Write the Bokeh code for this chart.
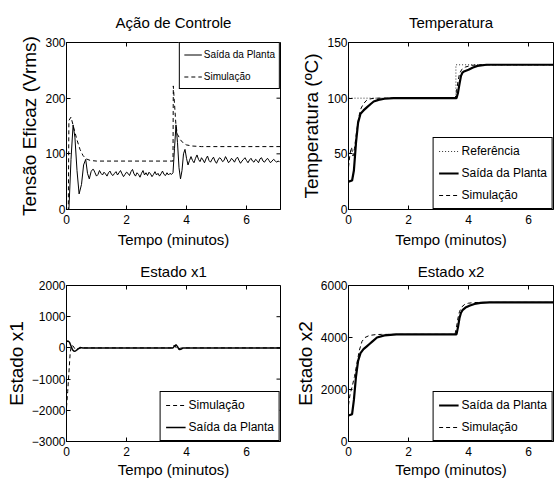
import numpy as np
from bokeh.plotting import figure
from bokeh.layouts import column, row
from bokeh.models import Range1d, FixedTicker, Legend, LegendItem
from bokeh.embed import file_html
from bokeh.resources import INLINE

FONT = "Liberation Sans"

# ---------------- data ----------------
x_ticks = [0, 2, 4, 6]

# Ação de Controle (Vrms)
u_sim_t = [0, 0.06, 0.08, 0.15, 0.25, 0.35, 0.45, 0.55, 0.65, 0.8, 1.0, 3.55, 3.56, 3.6, 3.65, 3.7, 3.8, 3.9, 4.0, 4.2, 4.5, 7.13]
u_sim = [0, 0, 160, 166, 145, 125, 108, 97, 91, 88, 87, 87, 222, 190, 150, 135, 125, 119, 116, 114, 113, 113]
u_plant_t_a = [0, 0.08, 0.15, 0.22, 0.28, 0.35, 0.42, 0.5, 0.57, 0.64, 0.7, 0.76, 0.82, 0.87]
u_plant_a = [0, 0, 90, 152, 130, 70, 28, 45, 80, 90, 65, 55, 68, 72]
u_noise1 = [72, 66, 60, 63, 70, 65, 62, 67, 64, 60, 66, 69, 63, 61, 65, 68, 62, 66, 70, 64,
            59, 63, 67, 65, 61, 68, 72, 64, 60, 66, 63, 58, 65, 70, 62, 66, 61, 67, 64, 59,
            63, 68, 62, 65, 60, 64, 69, 63, 61, 66, 62, 65, 63]
u_plant_t_b = [3.55, 3.6, 3.65, 3.7, 3.75, 3.8, 3.85, 3.9, 3.95, 4.0, 4.05, 4.1]
u_plant_b = [66, 110, 152, 120, 75, 55, 70, 100, 108, 92, 80, 88]
u_noise2 = [95, 88, 84, 92, 98, 90, 86, 93, 89, 84, 91, 96, 88, 85, 90, 94, 87, 83, 89, 93,
            91, 86, 88, 95, 90, 84, 87, 92, 89, 85, 91, 94, 88, 83, 87, 90, 93, 88, 84, 89,
            92, 87, 85, 90, 88, 84, 91, 93, 87, 85, 89, 92, 88, 84, 87, 90, 88, 85, 87, 86]

# Temperatura (ºC)
temp_ref_t = [0, 3.58, 3.58, 7.13]
temp_ref = [100, 100, 130, 130]
temp_plant_t = [0, 0.12, 0.18, 0.25, 0.32, 0.4, 0.5, 0.62, 0.75, 0.84, 1.0, 1.2, 1.5, 3.6, 3.65, 3.7, 3.75, 3.8, 3.85, 4.0, 4.15, 4.3, 4.6, 7.13]
temp_plant = [25, 26, 35, 60, 78, 86, 89, 92, 95, 97, 98.5, 99.5, 100, 100, 105, 113, 120, 123, 124, 125.5, 127.5, 129, 130, 130]
temp_sim_t = [0, 0.05, 0.1, 0.15, 0.2, 0.28, 0.35, 0.42, 0.5, 0.6, 0.75, 0.9, 3.56, 3.6, 3.65, 3.7, 3.78, 3.9, 4.1, 4.4, 7.13]
temp_sim = [38, 50, 56, 48, 55, 72, 84, 91, 95, 98, 99.5, 100, 100, 106, 115, 122, 126, 128, 129.5, 130, 130]

# Estado x1
x1_sim_t = [0, 0.04, 0.08, 0.12, 0.16, 0.22, 0.3, 0.4, 0.5, 3.5, 3.56, 3.62, 3.68, 3.75, 3.85, 7.13]
x1_sim = [-1900, -1400, -800, -200, 80, 60, -60, -20, 0, 0, 80, 60, -30, -20, 0, 0]
x1_plant_t = [0, 0.05, 0.1, 0.15, 0.2, 0.25, 0.3, 0.38, 0.45, 0.55, 3.55, 3.6, 3.65, 3.7, 3.75, 3.82, 3.9, 7.13]
x1_plant = [200, 220, 180, 60, -60, -110, -100, -40, 10, 0, 0, 60, 100, 40, -50, -40, 0, 0]

# Estado x2
x2_plant_t = [0, 0.12, 0.18, 0.25, 0.32, 0.4, 0.5, 0.6, 0.7, 0.8, 0.95, 1.2, 1.6, 3.6, 3.65, 3.7, 3.75, 3.8, 3.9, 4.05, 4.2, 4.4, 4.7, 7.13]
x2_plant = [1000, 1050, 1600, 2500, 3100, 3400, 3550, 3650, 3750, 3850, 4000, 4080, 4120, 4120, 4400, 4750, 4950, 5050, 5150, 5230, 5290, 5330, 5350, 5350]
x2_sim_t = [0, 0.05, 0.12, 0.2, 0.28, 0.36, 0.45, 0.55, 0.7, 0.9, 1.1, 3.55, 3.6, 3.65, 3.7, 3.78, 3.88, 4.0, 4.2, 4.5, 7.13]
x2_sim = [1400, 1800, 2100, 2500, 3000, 3500, 3850, 4000, 4080, 4110, 4120, 4120, 4400, 4750, 5000, 5180, 5280, 5320, 5345, 5350, 5350]

t_noise1 = list(np.round(0.9 + 0.05 * np.arange(len(u_noise1)), 2))
t_noise2 = list(np.round(4.15 + 0.05 * np.arange(len(u_noise2)), 2))
u_plant_t = u_plant_t_a + t_noise1 + u_plant_t_b + t_noise2
u_plant = u_plant_a + u_noise1 + u_plant_b + u_noise2

DASH = "4 3"
DOT = "1 2"


def make_fig(left_col, top_row, y_range, y_ticks, title, ylabel):
    if left_col:
        width, mbl, mbr = 290, 66, 10
    else:
        width, mbl, mbr = 264, 58, 1
    frame_w = width - mbl - mbr
    x_end = frame_w / 30.0
    if top_row:
        height, mbt, mbb = 250, 42, 41
    else:
        height, mbt, mbb = 234, 35, 43
    p = figure(width=width, height=height, x_range=Range1d(0, x_end), y_range=Range1d(*y_range),
               output_backend="svg", toolbar_location=None,
               min_border_left=mbl, min_border_right=mbr, min_border_top=mbt, min_border_bottom=mbb,
               title=title)
    p.grid.visible = False
    p.outline_line_color = "black"
    p.outline_line_width = 1
    p.outline_line_alpha = 1
    p.background_fill_color = "white"
    p.border_fill_color = "white"
    p.title.text_font = FONT
    p.title.text_font_size = "15px"
    p.title.text_font_style = "normal"
    p.title.text_color = "black"
    p.title.align = "center"
    p.title.standoff = 23 if top_row else 12
    if not left_col:
        p.title.offset = 4
    p.xaxis.ticker = FixedTicker(ticks=x_ticks)
    p.yaxis.ticker = FixedTicker(ticks=y_ticks)
    p.xaxis.axis_label = "Tempo (minutos)"
    p.yaxis.axis_label = ylabel
    for ax in (p.xaxis[0], p.yaxis[0]):
        ax.axis_line_color = "black"
        ax.major_tick_line_color = "black"
        ax.major_tick_in = 4
        ax.major_tick_out = 0
        ax.minor_tick_line_color = None
        ax.major_label_text_font = FONT
        ax.major_label_text_font_size = "12px"
        ax.major_label_text_color = "black"
        ax.axis_label_text_font_style = "normal"
        ax.axis_label_text_color = "black"
    p.xaxis.major_label_standoff = 5
    p.yaxis.major_label_standoff = 1
    p.xaxis.axis_label_text_font = FONT
    p.xaxis.axis_label_text_font_size = "15px"
    p.xaxis.axis_label_standoff = 4 if top_row else 2
    p.yaxis.axis_label_text_font = FONT
    p.yaxis.axis_label_text_font_size = "19px"
    p.yaxis.axis_label_standoff = 2
    # MATLAB-style inward box ticks on the top (and right) frame edges
    p.scatter(x_ticks, [y_range[1]] * len(x_ticks), marker="dash", angle=np.pi / 2,
              size=8, line_color="black", line_width=1)
    if left_col:
        p.scatter([x_end] * len(y_ticks), y_ticks, marker="dash", size=8,
                  line_color="black", line_width=1)
    return p


def add_legend(p, items, font_size, padding, glyph_w, standoff, row_h, spacing, location):
    leg = Legend(items=items, location=location, margin=0, padding=padding,
                 spacing=spacing, glyph_width=glyph_w, glyph_height=row_h, label_height=row_h,
                 label_standoff=standoff, label_text_font=FONT, label_text_font_size=font_size,
                 label_text_color="black", border_line_color="black", border_line_width=1,
                 border_line_alpha=1, background_fill_color="white", background_fill_alpha=1)
    p.add_layout(leg, "center")


# ---- Ação de Controle ----
p1 = make_fig(True, True, (0, 300), [0, 100, 200, 300], "Ação de Controle", "Tensão Eficaz (Vrms)")
r1s = p1.line(u_sim_t, u_sim, line_color="black", line_width=1, line_dash=DASH)
r1p = p1.line(u_plant_t, u_plant, line_color="black", line_width=1)
add_legend(p1, [LegendItem(label="Saída da Planta", renderers=[r1p]),
                LegendItem(label="Simulação", renderers=[r1s])],
           "10px", 4, 18, 2, 15, 7, "top_right")

# ---- Temperatura ----
p2 = make_fig(False, True, (0, 150), [0, 50, 100, 150], "Temperatura", "Temperatura (ºC)")
r2r = p2.line(temp_ref_t, temp_ref, line_color="#333333", line_width=1, line_dash=DOT)
r2s = p2.line(temp_sim_t, temp_sim, line_color="black", line_width=1, line_dash=DASH)
r2p = p2.line(temp_plant_t, temp_plant, line_color="black", line_width=2.2)
add_legend(p2, [LegendItem(label="Referência", renderers=[r2r]),
                LegendItem(label="Saída da Planta", renderers=[r2p]),
                LegendItem(label="Simulação", renderers=[r2s])],
           "12px", 5, 20, 3, 16, 6, "bottom_right")

# ---- Estado x1 ----
p3 = make_fig(True, False, (-3000, 2000), [-3000, -2000, -1000, 0, 1000, 2000], "Estado x1", "Estado x1")
r3s = p3.line(x1_sim_t, x1_sim, line_color="black", line_width=1, line_dash=DASH)
r3p = p3.line(x1_plant_t, x1_plant, line_color="black", line_width=1.5)
add_legend(p3, [LegendItem(label="Simulação", renderers=[r3s]),
                LegendItem(label="Saída da Planta", renderers=[r3p])],
           "12px", 5, 20, 3, 16, 6, "bottom_right")

# ---- Estado x2 ----
p4 = make_fig(False, False, (0, 6000), [0, 2000, 4000, 6000], "Estado x2", "Estado x2")
r4s = p4.line(x2_sim_t, x2_sim, line_color="black", line_width=1, line_dash=DASH)
r4p = p4.line(x2_plant_t, x2_plant, line_color="black", line_width=2.2)
add_legend(p4, [LegendItem(label="Saída da Planta", renderers=[r4p]),
                LegendItem(label="Simulação", renderers=[r4s])],
           "12px", 5, 20, 3, 16, 6, "bottom_right")

layout = column(row(p1, p2), row(p3, p4))

open("out.html", "w").write(file_html(layout, INLINE))
